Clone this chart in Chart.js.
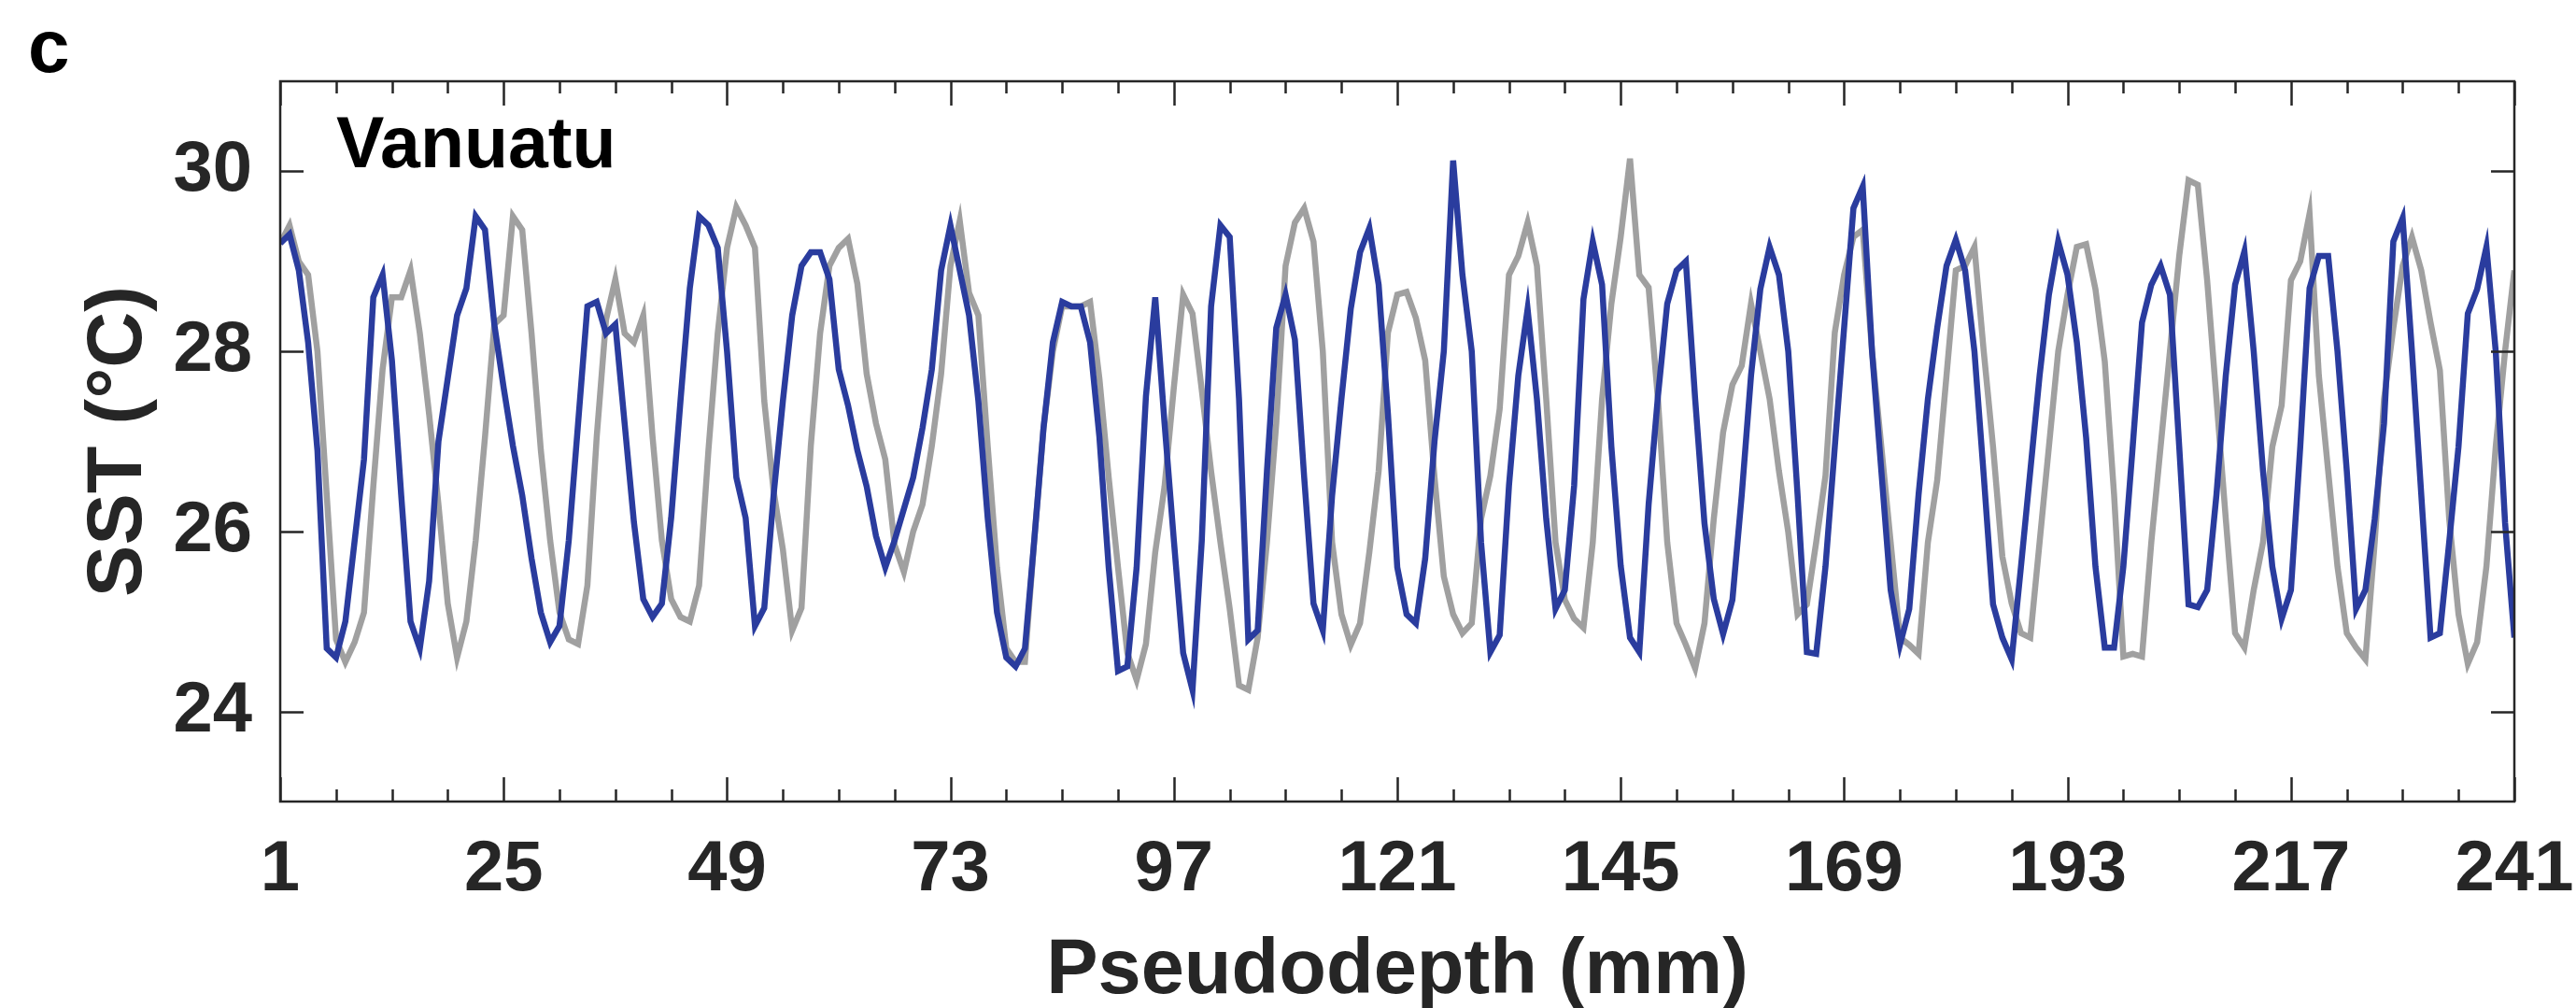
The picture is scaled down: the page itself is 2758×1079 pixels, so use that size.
<!DOCTYPE html>
<html>
<head>
<meta charset="utf-8"/>
<title>Vanuatu SST</title>
<script src="https://cdn.jsdelivr.net/npm/chart.js@4.4.1/dist/chart.umd.min.js"></script>
<style>
  body { margin: 0; background: #fff; }
  #wrap { width: 2758px; height: 1079px; }
</style>
</head>
<body>
<div id="wrap"><canvas id="chart" width="2758" height="1079"></canvas></div>
<script>
// pseudodepth in mm, one sample per mm
var depth = Array.from({length: 241}, function(_, i) { return i + 1; });

// blue series (SST, degC)
var blueSST = [
  29.2, 29.3, 28.9, 28.1, 26.9, 24.7, 24.6, 25.0, 25.9, 26.8,
  28.6, 28.85, 27.9, 26.4, 25.0, 24.7, 25.45, 27.0, 27.7, 28.4,
  28.7, 29.5, 29.35, 28.3, 27.6, 26.95, 26.4, 25.7, 25.1, 24.77,
  24.95, 25.9, 27.2, 28.5, 28.55, 28.2, 28.3, 27.2, 26.1, 25.25,
  25.05, 25.2, 26.15, 27.45, 28.7, 29.5, 29.4, 29.15, 28.0, 26.6,
  26.15, 24.95, 25.15, 26.4, 27.45, 28.4, 28.95, 29.1, 29.1, 28.8,
  27.8, 27.4, 26.9, 26.5, 25.95, 25.6, 25.9, 26.25, 26.6, 27.15,
  27.8, 28.9, 29.4, 28.9, 28.4, 27.45, 26.15, 25.1, 24.6, 24.5,
  24.7, 25.9, 27.15, 28.1, 28.55, 28.5, 28.5, 28.1, 27.05, 25.6,
  24.45, 24.5, 25.6, 27.5, 28.6, 27.2, 25.9, 24.65, 24.24, 25.9,
  28.5, 29.4, 29.27, 27.47, 24.8, 24.9, 26.67, 28.26, 28.63, 28.13,
  26.6, 25.2, 24.9, 26.4, 27.47, 28.47, 29.1, 29.37, 28.74, 27.3,
  25.6, 25.08, 24.98, 25.7, 27.0, 28.0, 30.12, 28.85, 28.0, 25.88,
  24.66, 24.85, 26.51, 27.73, 28.47, 27.47, 26.14, 25.14, 25.35, 26.51,
  28.58, 29.22, 28.74, 26.94, 25.62, 24.82, 24.66, 26.3, 27.5, 28.53,
  28.9, 29.0, 27.47, 26.09, 25.25, 24.86, 25.24, 26.4, 27.73, 28.69,
  29.16, 28.85, 28.0, 26.41, 24.66, 24.64, 25.61, 26.94, 28.26, 29.59,
  29.83, 28.0, 26.67, 25.35, 24.74, 25.14, 26.41, 27.47, 28.26, 28.95,
  29.24, 28.9, 28.0, 26.62, 25.19, 24.82, 24.58, 25.61, 26.67, 27.73,
  28.63, 29.22, 28.85, 28.1, 27.04, 25.61, 24.71, 24.71, 25.61, 26.94,
  28.32, 28.74, 28.95, 28.63, 26.94, 25.19, 25.16, 25.35, 26.41, 27.73,
  28.74, 29.11, 28.0, 26.67, 25.61, 25.03, 25.35, 26.94, 28.7, 29.06,
  29.06, 28.0, 26.67, 25.14, 25.35, 26.14, 27.2, 29.22, 29.48, 28.0,
  26.41, 24.82, 24.87, 25.88, 26.94, 28.42, 28.69, 29.16, 28.0, 26.1,
  24.82
];

// gray series (SST, degC)
var graySST = [
  29.2, 29.4, 29.0, 28.85, 28.0, 26.4, 24.8, 24.55, 24.77, 25.1,
  26.5, 27.8, 28.6, 28.6, 28.9, 28.2, 27.3, 26.3, 25.2, 24.6,
  25.0, 25.9, 27.05, 28.3, 28.4, 29.5, 29.35, 28.2, 26.9, 25.9,
  25.1, 24.8, 24.75, 25.4, 27.05, 28.35, 28.8, 28.2, 28.1, 28.4,
  27.05, 25.9, 25.25, 25.05, 25.0, 25.4, 26.9, 28.2, 29.15, 29.6,
  29.4, 29.15, 27.45, 26.45, 25.8, 24.9, 25.15, 26.95, 28.2, 28.95,
  29.15, 29.25, 28.75, 27.75, 27.2, 26.8, 25.85, 25.55, 26.0, 26.3,
  26.95, 27.75, 28.95, 29.45, 28.65, 28.4, 26.95, 25.6, 24.7, 24.55,
  24.55, 25.9, 27.15, 28.0, 28.5, 28.5, 28.5, 28.55, 27.7, 26.6,
  25.6, 24.65, 24.35, 24.75, 25.77, 26.5, 27.6, 28.63, 28.42, 27.57,
  26.67, 25.88, 25.14, 24.29, 24.24, 24.82, 25.88, 27.2, 28.95, 29.43,
  29.59, 29.22, 28.0, 25.88, 25.08, 24.74, 24.98, 25.77, 26.67, 28.21,
  28.63, 28.66, 28.37, 27.9, 26.6, 25.5, 25.08, 24.87, 24.98, 26.14,
  26.62, 27.36, 28.85, 29.06, 29.43, 28.95, 27.47, 25.88, 25.24, 25.03,
  24.93, 25.88, 27.47, 28.53, 29.27, 30.14, 28.85, 28.71, 27.47, 25.88,
  24.98, 24.74, 24.48, 24.98, 26.14, 27.1, 27.63, 27.84, 28.53, 28.0,
  27.47, 26.67, 25.99, 25.08, 25.19, 25.88, 26.62, 28.21, 28.85, 29.27,
  29.35, 28.0, 26.94, 25.88, 24.82, 24.74, 24.64, 25.88, 26.57, 27.73,
  28.9, 28.95, 29.16, 28.0, 26.94, 25.72, 25.2, 24.87, 24.82, 25.88,
  26.94, 28.0, 28.63, 29.16, 29.19, 28.69, 27.89, 26.41, 24.61, 24.64,
  24.61, 25.88, 26.94, 28.0, 29.06, 29.9, 29.85, 28.79, 27.47, 26.14,
  24.87, 24.71, 25.35, 25.88, 26.94, 27.4, 28.79, 29.0, 29.53, 27.73,
  26.67, 25.61, 24.87, 24.71, 24.58, 25.88, 27.47, 28.26, 28.95, 29.27,
  28.9, 28.32, 27.79, 26.14, 25.08, 24.53, 24.77, 25.61, 26.94, 28.0,
  28.9
];

var xTickLabels = [1, 25, 49, 73, 97, 121, 145, 169, 193, 217, 241];
var xMinorStep = 6;
var yTickLabels = [24, 26, 28, 30];

var FONT = "'Liberation Sans', Arial, Helvetica, sans-serif";
var INK = '#262626';

function pts(ys) {
  return depth.map(function(d, i) { return {x: d, y: ys[i]}; });
}

// MATLAB-style box with inward ticks, plus the site label and panel letter
var boxPlugin = {
  id: 'boxPlugin',
  afterDatasetsDraw: function(chart) {
    var ctx = chart.ctx, a = chart.chartArea;
    var xs = chart.scales.x, ys = chart.scales.y;
    ctx.save();
    ctx.strokeStyle = INK;
    ctx.lineWidth = 2.5;
    ctx.strokeRect(a.left, a.top, a.right - a.left, a.bottom - a.top);
    ctx.beginPath();
    for (var v = xs.min; v <= xs.max; v += xMinorStep) {
      var px = Math.round(xs.getPixelForValue(v)) + 0.5;
      var len = xTickLabels.indexOf(v) >= 0 ? 26 : 13;
      ctx.moveTo(px, a.bottom); ctx.lineTo(px, a.bottom - len);
      ctx.moveTo(px, a.top); ctx.lineTo(px, a.top + len);
    }
    yTickLabels.forEach(function(t) {
      var py = Math.round(ys.getPixelForValue(t)) + 0.5;
      ctx.moveTo(a.left, py); ctx.lineTo(a.left + 25, py);
      ctx.moveTo(a.right, py); ctx.lineTo(a.right - 25, py);
    });
    ctx.stroke();

    ctx.fillStyle = '#000';
    ctx.textBaseline = 'alphabetic';
    ctx.textAlign = 'left';
    ctx.font = 'bold 77px ' + FONT;
    ctx.fillText('Vanuatu', a.left + 60, 179);
    ctx.font = 'bold 80px ' + FONT;
    ctx.fillText('c', 30, 77);
    ctx.restore();
  }
};

var ctx = document.getElementById('chart');
var myChart = new Chart(ctx, {
  type: 'line',
  data: {
    datasets: [{
      label: 'blue',
      data: pts(blueSST),
      borderColor: '#2a3c9e',
      borderWidth: 6.5,
      pointRadius: 0,
      tension: 0,
      order: 0
    }, {
      label: 'gray',
      data: pts(graySST),
      borderColor: '#a0a0a0',
      borderWidth: 6.5,
      pointRadius: 0,
      tension: 0,
      order: 1
    }]
  },
  options: {
    responsive: false,
    animation: false,
    devicePixelRatio: 1,
    layout: { padding: { top: 87, right: 66, left: 0, bottom: 0 } },
    plugins: { legend: { display: false }, tooltip: { enabled: false } },
    scales: {
      x: {
        type: 'linear',
        min: 1,
        max: 241,
        afterBuildTicks: function(s) { s.ticks = xTickLabels.map(function(v) { return {value: v}; }); },
        afterFit: function(s) { s.height = 221; s.paddingLeft = 0; s.paddingRight = 0; },
        grid: { display: false, drawTicks: false },
        border: { display: false },
        ticks: {
          autoSkip: false,
          maxRotation: 0,
          padding: 28,
          color: INK,
          font: { family: FONT, size: 76, weight: 'bold' }
        },
        title: {
          display: true,
          text: 'Pseudodepth (mm)',
          color: INK,
          padding: { top: 0, bottom: 6 },
          font: { family: FONT, size: 83, weight: 'bold', lineHeight: 0.8 }
        }
      },
      y: {
        min: 23,
        max: 31,
        afterBuildTicks: function(s) { s.ticks = yTickLabels.map(function(v) { return {value: v}; }); },
        afterFit: function(s) { s.width = 300; s.paddingTop = 0; s.paddingBottom = 0; },
        grid: { display: false, drawTicks: false },
        border: { display: false },
        ticks: {
          padding: 30,
          color: INK,
          font: { family: FONT, size: 76, weight: 'bold' }
        },
        title: {
          display: true,
          text: 'SST (°C)',
          color: INK,
          padding: { top: 87, bottom: 0 },
          font: { family: FONT, size: 83, weight: 'bold', lineHeight: 1 }
        }
      }
    }
  },
  plugins: [boxPlugin]
});
</script>
</body>
</html>
